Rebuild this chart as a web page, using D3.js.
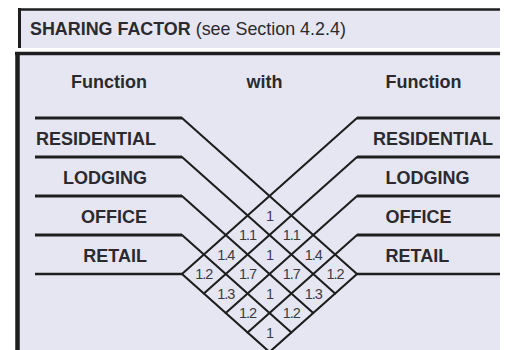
<!DOCTYPE html>
<html><head><meta charset="utf-8">
<script src="https://cdn.jsdelivr.net/npm/d3@7"></script>
<style>body{margin:0;background:#fff}svg{display:block}</style>
</head><body>
<script>
const title = "SHARING FACTOR";
const subtitle = "(see Section 4.2.4)";
const columnHeaders = ["Function", "with", "Function"];
const functions = ["RESIDENTIAL", "LODGING", "OFFICE", "RETAIL"];
// sharing factor of row function with column function
const factors = [
  [1,   1.1, 1.4, 1.2],
  [1.1, 1,   1.7, 1.3],
  [1.4, 1.7, 1,   1.2],
  [1.2, 1.3, 1.2, 1  ]
];

const W = 509, H = 350;
const bg = "#e6e6f2", ink = "#1e1e1e", txt = "#2a2a2f";
const svg = d3.select("body").append("svg").attr("width", W).attr("height", H);

// frames
svg.append("rect").attr("x", 20).attr("y", 9).attr("width", 480).attr("height", 39).attr("fill", bg);
svg.append("line").attr("x1", 18).attr("x2", 500).attr("y1", 9.5).attr("y2", 9.5).attr("stroke", ink).attr("stroke-width", 2.5);
svg.append("line").attr("x1", 19.5).attr("x2", 19.5).attr("y1", 8).attr("y2", 48).attr("stroke", ink).attr("stroke-width", 3);

svg.append("rect").attr("x", 18).attr("y", 52).attr("width", 482).attr("height", 298).attr("fill", bg);
svg.append("line").attr("x1", 15).attr("x2", 500).attr("y1", 53.5).attr("y2", 53.5).attr("stroke", ink).attr("stroke-width", 3.5);
svg.append("line").attr("x1", 17.5).attr("x2", 17.5).attr("y1", 52).attr("y2", 350).attr("stroke", ink).attr("stroke-width", 4.5);

const font = "'Liberation Sans', Arial, sans-serif";

// title
const t = svg.append("text").attr("x", 30).attr("y", 35).attr("font-family", font)
  .attr("font-size", 17.9).attr("fill", txt);
t.append("tspan").attr("font-weight", "bold").text(title);
t.append("tspan").text(" " + subtitle);

// geometry through scales
const n = functions.length;
const y = d3.scaleLinear().domain([0, n]).range([118, 274]);
const xLeft = d3.scaleLinear().domain([0, 1]).range([35, 182]);
const xRight = d3.scaleLinear().domain([0, 1]).range([357, 500]);
const xa = xLeft(1), xb = xRight(0);
const s = (y(n) - y(0)) / (xb - xa);
function cross(i, j) { // left line i meets right line j
  const x = (y(j) - y(i) + s * (xa + xb)) / (2 * s);
  return [x, y(i) + s * (x - xa)];
}

const g = svg.append("g");
// horizontal rules
d3.range(n + 1).forEach(k => {
  const sw = k === n ? 2.5 : 3.2;
  g.append("line").attr("x1", xLeft(0)).attr("x2", xa).attr("y1", y(k)).attr("y2", y(k))
    .attr("stroke", ink).attr("stroke-width", sw);
  g.append("line").attr("x1", xb).attr("x2", xRight(1)).attr("y1", y(k)).attr("y2", y(k))
    .attr("stroke", ink).attr("stroke-width", sw);
});
// diagonals
d3.range(n + 1).forEach(k => {
  const pL = cross(k, n), pR = cross(n, k);
  g.append("line").attr("x1", xa).attr("y1", y(k)).attr("x2", pL[0]).attr("y2", pL[1])
    .attr("stroke", ink).attr("stroke-width", 2.1).attr("stroke-linecap", "round");
  g.append("line").attr("x1", xb).attr("y1", y(k)).attr("x2", pR[0]).attr("y2", pR[1])
    .attr("stroke", ink).attr("stroke-width", 2.1).attr("stroke-linecap", "round");
});

// column headers
const hdr = [
  {t: columnHeaders[0], x: xLeft(0.762), a: "end"},
  {t: columnHeaders[1], x: (xa + xb) / 2 - 5, a: "middle"},
  {t: columnHeaders[2], x: xRight(0.2), a: "start"}
];
hdr.forEach(h => svg.append("text").attr("x", h.x).attr("y", 88).attr("text-anchor", h.a)
  .attr("font-family", font).attr("font-weight", "bold").attr("font-size", 18).attr("fill", txt).text(h.t));

// row labels
functions.forEach((f, k) => {
  const yy = y(k) + 26.5;
  const l = svg.append("text").attr("y", yy).attr("font-family", font).attr("font-weight", "bold")
    .attr("font-size", 18).attr("fill", txt).text(f);
  const w = l.node().getComputedTextLength();
  const endL = xLeft(0.762);
  l.attr("x", Math.max(xLeft(0) + 1, endL - w));
  const r = svg.append("text").attr("y", yy).attr("font-family", font).attr("font-weight", "bold")
    .attr("font-size", 18).attr("fill", txt).text(f);
  const startR = xRight(0.2);
  r.attr("x", Math.min(startR, xRight(1) - 7 - w));
});

// factor values in cells
const fmt = v => (Number.isInteger(v) ? String(v) : v.toFixed(1));
factors.forEach((row, i) => row.forEach((v, j) => {
  const p = cross(i + 0.5, j + 0.5);
  svg.append("text").attr("x", p[0]).attr("y", p[1] + 5).attr("text-anchor", "middle")
    .attr("font-family", font).attr("font-size", 14.5).attr("letter-spacing", -1)
    .attr("fill", "#3a3a44").text(fmt(v));
}));
</script>
</body></html>
